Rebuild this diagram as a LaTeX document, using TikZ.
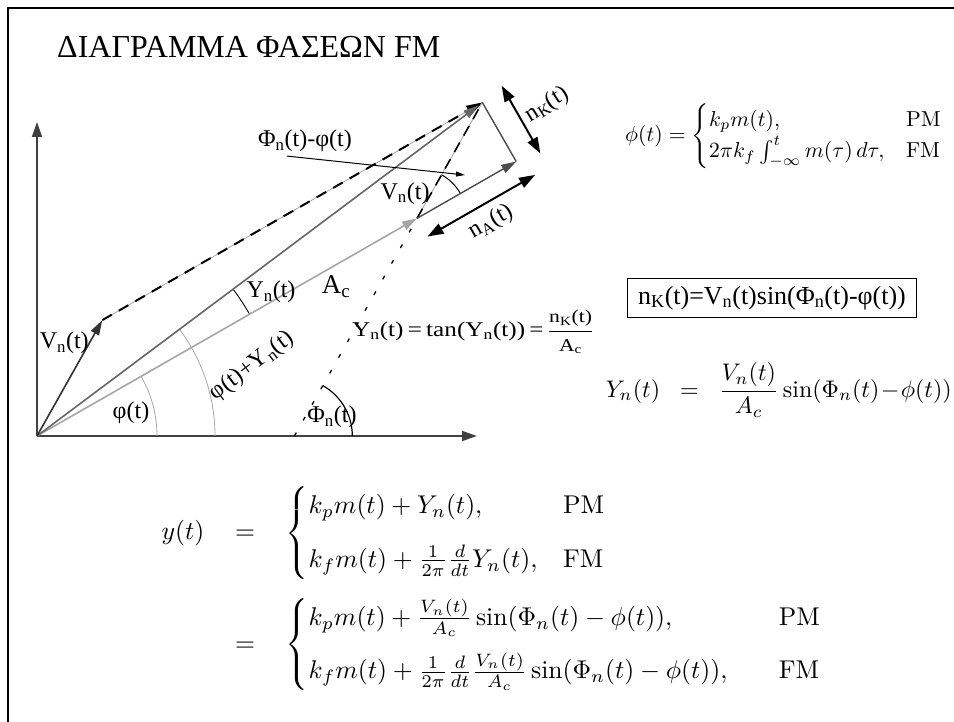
\documentclass[tikz,border=0pt]{standalone}
\usepackage{amsmath,amssymb}
\usepackage{fontspec}
\usepackage{graphicx}
\newfontfamily\tms{Liberation Serif}
\usetikzlibrary{arrows.meta, positioning, calc}

\begin{document}
\begin{tikzpicture}[x=1pt, y=1pt,
        every node/.style={align=center, inner sep=0pt},
        lbl/.style={font=\tms\fontsize{24}{28}\selectfont},
        axisline/.style={line width=1.6pt, black!75, -{Triangle[length=15pt, width=10pt]}},
        phasor/.style={line width=1.6pt, -{Triangle[length=15pt, width=9pt]}},
        guide/.style={line width=0.8pt, black!35},
        dashvec/.style={line width=2pt, dash pattern=on 11pt off 8pt},
        dotvec/.style={line width=1.3pt, dash pattern=on 4pt off 14pt},
        comp/.style={line width=2pt, {Triangle[length=16pt, width=11pt]}-{Triangle[length=16pt, width=11pt]}},
        eqbox/.style={draw, line width=0.8pt, inner xsep=11pt, inner ysep=8pt}
    ]
        \useasboundingbox (0,0) rectangle (954,722);
        \draw[line width=2pt] (8,0) -- (8,714) -- (954,714);
        \node[lbl, anchor=base west, font=\tms\fontsize{32}{38}\selectfont] (title) at (57,664) {ΔΙΑΓΡΑΜΜΑ ΦΑΣΕΩΝ FM};

        \coordinate (O) at (37,286);
        \coordinate (xend) at (477,286);
        \coordinate (yend) at (37,600);
        \coordinate (A) at ($(O)+(29.8:438)$);
        \coordinate (V) at ($(O)+(60.6:133)$);
        \coordinate (T) at ($(A)+(60.6:133)$);
        \coordinate (C) at ($(A)+(29.8:114.3)$);
        \coordinate (B) at ($(A)+(240.6:250)$);

        \draw[axisline] (O) -- (xend);
        \draw[axisline] (O) -- (yend);

        \draw[guide] ($(O)+(120,0)$) arc[start angle=0, end angle=29.8, radius=120pt];
        \draw[guide] ($(O)+(178,0)$) arc[start angle=0, end angle=36.9, radius=178pt];
        \draw[line width=0.9pt] ($(O)+(29.8:245)$) arc[start angle=29.8, end angle=36.9, radius=245pt];
        \draw[line width=1.2pt] ($(B)+(58,0)$) arc[start angle=0, end angle=60.6, radius=58pt];
        \draw[line width=1pt] ($(A)+(29.8:50)$) arc[start angle=29.8, end angle=60.6, radius=50pt];

        \draw[guide] (V) -- (T);
        \draw[dashvec, -{Triangle[length=16pt, width=10pt]}] (V) -- (T);
        \draw[phasor, black!35] (O) -- (A);
        \draw[phasor, black!60, shorten >=5pt] (O) -- (T);
        \draw[phasor, black!80] (O) -- (V);
        \draw[guide] (A) -- (T);
        \draw[dashvec, line width=1.6pt] (A) -- (T);
        \draw[dotvec] (B) -- (A);
        \draw[phasor, black!70, line width=1.4pt] (A) -- (C);
        \draw[line width=1.4pt, black!70] (C) -- (T);

        \coordinate (nA1) at ($(A)+(-60.2:21)$);
        \coordinate (nA2) at ($(nA1)+(29.8:124)$);
        \coordinate (nK1) at ($(C)+(29.8:25)+(119.8:-5)$);
        \coordinate (nK2) at ($(nK1)+(119.8:78)$);
        \draw[comp] (nA1) -- (nA2);
        \draw[comp] (nK1) -- (nK2);
        \node[lbl, rotate=29.8] (nAlbl) at ($(nA1)!0.5!(nA2)+(-60.2:19)$) {n\textsubscript{A}(t)};
        \node[lbl, rotate=32] (nKlbl) at ($(nK1)!0.5!(nK2)+(29.8:30)$) {n\textsubscript{K}(t)};

        \node[lbl] (phlbl) at (305,581) {Φ\textsubscript{n}(t)-φ(t)};
        \coordinate (phtip) at (465,547);
        \draw[line width=1pt, -{Triangle[length=9pt, width=5pt]}] ($(phlbl.south)+(-18,-4)$) -- (phtip);

        \node[lbl] (vnlbl) at ($(V)+(-38,-23)$) {V\textsubscript{n}(t)};
        \node[lbl] (vnAlbl) at ($(A)+(-12,25)$) {V\textsubscript{n}(t)};
        \node[lbl] (ynlbl) at (271,430) {Y\textsubscript{n}(t)};
        \node[lbl, font=\tms\fontsize{27}{30}\selectfont] (aclbl) at (336,435) {A\textsubscript{c}};
        \node[lbl] (philbl) at (131,309) {φ(t)};
        \node[lbl, rotate=37] (phiylbl) at (252,356) {φ(t)+Y\textsubscript{n}(t)};
        \node[lbl] (Philbl) at (332,305) {Φ\textsubscript{n}(t)};
        \node[lbl, anchor=west, font=\tms\fontsize{21}{24}\selectfont] (tanlbl) at (352,390)
            {\scalebox{1.2}[1]{Y\textsubscript{n}(t)\,=\,tan(Y\textsubscript{n}(t))\,=\,$\dfrac{\text{\fontsize{18}{20}\selectfont n\textsubscript{K}(t)}}{\text{\fontsize{18}{20}\selectfont A\textsubscript{c}}}$}};

        \node[anchor=west] (phieq) at (625,586) {\resizebox{318pt}{!}{$\phi(t)=\begin{cases} k_pm(t), & \text{PM}\\ 2\pi k_f\int_{-\infty}^t m(\tau)\,d\tau, & \text{FM}\end{cases}$}};
        \node[eqbox, lbl, font=\tms\fontsize{26}{30}\selectfont] (nkbox) at (772,424) {n\textsubscript{K}(t)=V\textsubscript{n}(t)sin(Φ\textsubscript{n}(t)-φ(t))};
        \node[anchor=east] (yneq) at (952,332) {\resizebox{346pt}{!}{$Y_n(t)\;\;=\;\;\dfrac{V_n(t)}{A_c}\sin(\Phi_n(t)\!-\!\phi(t))$}};
        \node[anchor=west] (yeq) at (146,133) {\setlength{\arraycolsep}{6pt}\resizebox{692pt}{!}{$\begin{array}{rcl}
            y(t) & = & \begin{cases} k_pm(t)+Y_n(t), & \text{PM}\\[1.5ex] k_fm(t)+\frac{1}{2\pi}\frac{d}{dt}Y_n(t), & \text{FM}\end{cases}\\[4.5ex]
             & = & \begin{cases} k_pm(t)+\frac{V_n(t)}{A_c}\sin(\Phi_n(t)-\phi(t)), & \quad\text{PM}\\[1.5ex] k_fm(t)+\frac{1}{2\pi}\frac{d}{dt}\frac{V_n(t)}{A_c}\sin(\Phi_n(t)-\phi(t)), & \quad\text{FM}\end{cases}
            \end{array}$}};
    \end{tikzpicture}
\end{document}
